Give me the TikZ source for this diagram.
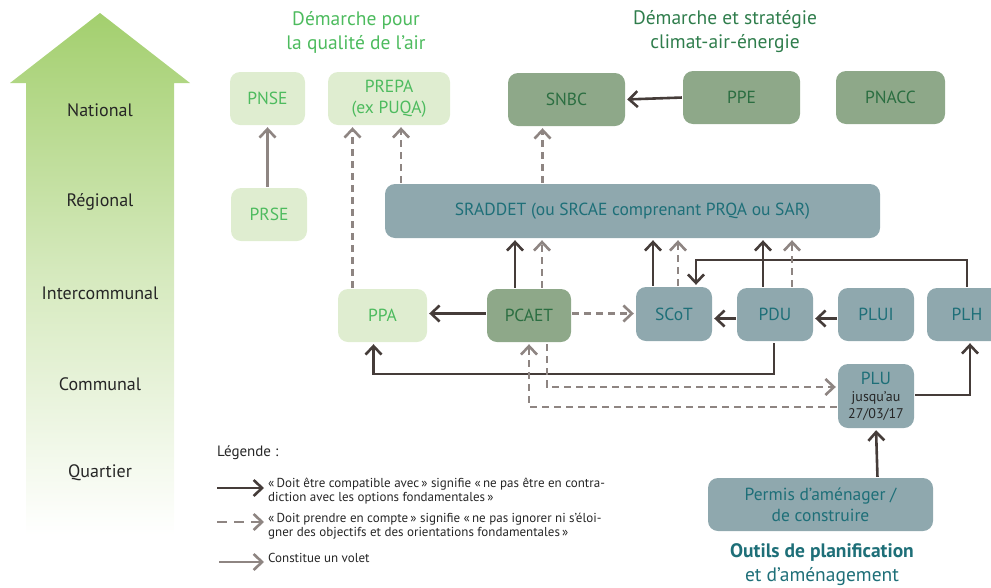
\documentclass[tikz,border=0pt]{standalone}
\usepackage{fontspec}
\setmainfont{PT Sans}
\usetikzlibrary{arrows.meta}
\definecolor{lgfill}{HTML}{DFEDD0}
\definecolor{lgtext}{HTML}{4DBB5E}
\definecolor{mgfill}{HTML}{8EA889}
\definecolor{mgtext}{HTML}{2B6E41}
\definecolor{bgfill}{HTML}{8FA8AE}
\definecolor{bgtext}{HTML}{1E6F78}
\definecolor{darkarr}{HTML}{453C39}
\definecolor{grayarr}{HTML}{8E8582}
\definecolor{arrowgreen}{HTML}{A3CF6E}
\definecolor{climtitle}{HTML}{2F7D4C}
\begin{document}
\begin{tikzpicture}[x=1pt,y=-1pt,
  box/.style={rounded corners=10pt, inner sep=0pt, align=center, font=\fontsize{17.5}{21}\selectfont},
  lg/.style={box, fill=lgfill, text=lgtext},
  mg/.style={box, fill=mgfill, text=mgtext},
  bg/.style={box, fill=bgfill, text=bgtext},
  tipA/.tip={Straight Barb[length=8.5pt,width=16pt]},
  dk/.style={draw=darkarr, line width=2.6pt, -{tipA}, shorten >=2pt, shorten <=1pt},
  gd/.style={draw=grayarr, line width=2.6pt, -{tipA}, dash pattern=on 7pt off 5pt, shorten >=2pt, shorten <=1pt},
  vl/.style={draw=grayarr, line width=2.6pt, -{tipA}, shorten >=2pt, shorten <=1pt},
  lvl/.style={font=\fontsize{18}{20}\selectfont, text=black!85},
  ttl/.style={align=center, font=\fontsize{19.5}{24}\selectfont},
  legtxt/.style={anchor=north west, align=left, inner sep=0pt, font=\fontsize{13}{13.5}\selectfont, text=black!85}
]
\useasboundingbox (0,0) rectangle (991,587);

% big level arrow
\shade[top color=arrowgreen, bottom color=white, middle color=arrowgreen!45]
  (100,13) -- (190,83) -- (174,83) -- (174,535) -- (26,535) -- (26,83) -- (10,83) -- cycle;
\node[lvl] (national) at (100,110) {National};
\node[lvl] (regional) at (100,202) {Régional};
\node[lvl] (intercom) at (100,293) {Intercommunal};
\node[lvl] (communal) at (100,384) {Communal};
\node[lvl] (quartier) at (100,473) {Quartier};

% titles
\node[ttl, text=lgtext] (tair) at (356,32) {Démarche pour\\la qualité de l’air};
\node[ttl, text=climtitle] (tclim) at (725,32) {Démarche et stratégie\\climat-air-énergie};

% nodes
\node[lg, minimum width=75pt, minimum height=53pt] (PNSE) at (267.5,98.5) {PNSE};
\node[lg, minimum width=122pt, minimum height=53pt] (PREPA) at (389,98.5) {PREPA\\(ex PUQA)};
\node[mg, minimum width=117pt, minimum height=53pt] (SNBC) at (566.5,99.5) {SNBC};
\node[mg, minimum width=117pt, minimum height=53pt] (PPE) at (741.5,97.5) {PPE};
\node[mg, minimum width=109pt, minimum height=53pt] (PNACC) at (890.5,97.5) {PNACC};
\node[lg, minimum width=76pt, minimum height=53pt] (PRSE) at (269,214.5) {PRSE};
\node[bg, minimum width=495pt, minimum height=54pt] (SRADDET) at (632.5,211) {SRADDET (ou SRCAE comprenant PRQA ou SAR)};
\node[lg, minimum width=89pt, minimum height=53pt] (PPA) at (382.5,315.5) {PPA};
\node[mg, minimum width=84pt, minimum height=53pt] (PCAET) at (529,315.5) {PCAET};
\node[bg, minimum width=76pt, minimum height=54pt] (SCoT) at (674,314) {SCoT};
\node[bg, minimum width=76pt, minimum height=53pt] (PDU) at (775,314.5) {PDU};
\node[bg, minimum width=76pt, minimum height=53pt] (PLUI) at (876,314.5) {PLUI};
\node[bg, minimum width=80pt, minimum height=53pt, text width=80pt] (PLH) at (967,314.5) {PLH};
\node[bg, minimum width=76pt, minimum height=64pt] (PLU) at (876,396) {PLU\\[-4pt]{\fontsize{14}{15}\selectfont\color{black!85}jusqu’au}\\[-4pt]{\fontsize{14}{15}\selectfont\color{black!85}27/03/17}};
\node[bg, minimum width=225pt, minimum height=53pt] (PERMIS) at (820.5,504.5) {Permis d’aménager /\\de construire};
\node[align=center, text=bgtext, font=\fontsize{19.5}{24}\selectfont] (outils) at (822,565) {\textbf{Outils de planification}\\et d’aménagement};

% helper coordinates
\coordinate (y260) at (0,260);
\coordinate (y374) at (0,374);
\coordinate (y387) at (0,387);
\coordinate (y407) at (0,407);
\coordinate (y395) at (0,395);

% connectors
\draw[vl] (PRSE.north -| PNSE.south) -- (PNSE.south);
\draw[gd] ([xshift=-30pt]PPA.north) -- ([xshift=-30pt]PPA.north |- PREPA.south);
\draw[gd] ([xshift=12pt]PREPA.south |- SRADDET.north) -- ([xshift=12pt]PREPA.south);
\draw[gd] ([xshift=-24pt]SNBC.south |- SRADDET.north) -- ([xshift=-24pt]SNBC.south);
\draw[dk] (PPE.west) -- (SNBC.east);
\draw[dk] ([xshift=-14pt]PCAET.north) -- ([xshift=-14pt]PCAET.north |- SRADDET.south);
\draw[gd] ([xshift=13pt]PCAET.north) -- ([xshift=13pt]PCAET.north |- SRADDET.south);
\draw[dk] ([yshift=2pt]PCAET.west) -- ([yshift=2pt]PCAET.west -| PPA.east);
\draw[gd] ([yshift=2pt]PCAET.east) -- ([yshift=2pt]PCAET.east -| SCoT.west);
\draw[dk] ([xshift=-21pt]SCoT.north) -- ([xshift=-21pt]SCoT.north |- SRADDET.south);
\draw[gd] ([xshift=4pt]SCoT.north) -- ([xshift=4pt]SCoT.north |- SRADDET.south);
\draw[dk] (PLH.north) -- (PLH.north |- y260) -| ([xshift=22pt]SCoT.north);
\draw[dk] ([xshift=-12pt]PDU.north) -- ([xshift=-12pt]PDU.north |- SRADDET.south);
\draw[gd] ([xshift=17pt]PDU.north) -- ([xshift=17pt]PDU.north |- SRADDET.south);
\draw[dk] ([yshift=-4pt]PDU.west) -- ([yshift=-4pt]PDU.west -| SCoT.east);
\draw[dk] ([yshift=-4pt]PLUI.west) -- ([yshift=-4pt]PLUI.west -| PDU.east);
\draw[dk, shorten <=2pt] ([xshift=-1pt]PDU.south) -- ([xshift=-1pt]PDU.south |- y374) -| ([xshift=-9pt]PPA.south);
\draw[gd, shorten <=2pt] ([xshift=18pt]PCAET.south) -- ([xshift=18pt]PCAET.south |- y387) -- (PLU.west |- y387);
\draw[gd] (PLU.west |- y407) -| (PCAET.south);
\draw[dk] (PLU.east |- y395) -| ([xshift=3pt]PLH.south);
\draw[dk] ([xshift=57pt]PERMIS.north) -- (PLU.south);

% legend
\node[anchor=west, inner sep=0pt, font=\fontsize{15}{17}\selectfont, text=black!85] (leg) at (217,453) {Légende :};
\coordinate (L1a) at (217,488); \coordinate (L1b) at (264,488);
\coordinate (L2a) at (217,522); \coordinate (L2b) at (264,522);
\coordinate (L3a) at (219,562); \coordinate (L3b) at (264,562);
\draw[dk, shorten >=0pt, shorten <=0pt] (L1a) -- (L1b);
\draw[gd, shorten >=0pt, shorten <=0pt, dash pattern=on 10pt off 7pt] (L2a) -- (L2b);
\draw[vl, shorten >=0pt, shorten <=0pt] (L3a) -- (L3b);
\node[legtxt] (t1) at (268,478) {«\,Doit être compatible avec\,» signifie «\,ne pas être en contra-\\diction avec les options fondamentales\,»};
\node[legtxt] (t2) at (268,513) {«\,Doit prendre en compte\,» signifie «\,ne pas ignorer ni s’éloi-\\gner des objectifs et des orientations fondamentales\,»};
\node[legtxt] (t3) at (268,553) {Constitue un volet};
\end{tikzpicture}
\end{document}
